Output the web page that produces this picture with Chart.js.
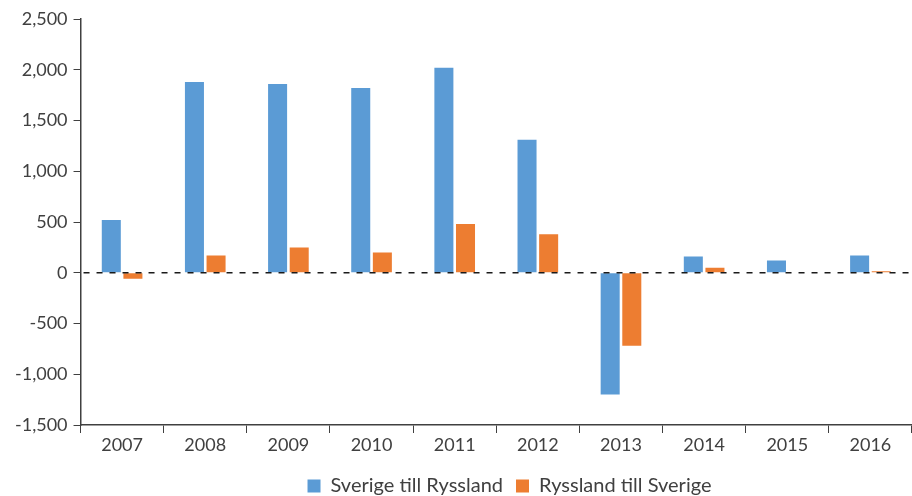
<!DOCTYPE html>
<html>
<head>
<meta charset="utf-8">
<script src="https://cdn.jsdelivr.net/npm/chart.js@4"></script>
<style>
  html,body{margin:0;padding:0;background:#fff;}
  #wrap{width:912px;height:496px;}
</style>
</head>
<body>
<div id="wrap"><canvas id="chart" width="912" height="496"></canvas></div>
<script>
const years = ["2007","2008","2009","2010","2011","2012","2013","2014","2015","2016"];
const sverigeTillRyssland = [520,1880,1860,1820,2020,1310,-1200,160,120,170];
const ryssTillSverige = [-60,170,250,200,480,380,-720,50,0,15];

// dashed line at zero, drawn on top of the bars
const zeroLine = {
    id:"zeroLine",
    afterDatasetsDraw(chart){
        const y = chart.scales.y.getPixelForValue(0);
        const a = chart.chartArea;
        const c = chart.ctx;
        c.save();
        c.strokeStyle="#1a1a1a";
        c.lineWidth=1.5;
        c.setLineDash([6,7]);
        c.beginPath();
        c.moveTo(a.left+3,y);
        c.lineTo(a.right,y);
        c.stroke();
        c.restore();
    }
};

// pull the legend closer to the bottom edge and center it under the plot
const legendPlace = {
    id:"legendPlace",
    beforeInit(chart){
        const fit = chart.legend.fit;
        chart.legend.fit = function(){
            fit.call(this);
            this.height -= 10;
        };
    },
    afterLayout(chart){
        chart.legend.left += 98;
    }
};

Chart.defaults.font.family="Lato, 'Open Sans', sans-serif";
Chart.defaults.color="#404040";

new Chart(document.getElementById("chart"),{
    type:"bar",
    data:{
        labels:years,
        datasets:[{
            label:"Sverige till Ryssland",
            data:sverigeTillRyssland,
            backgroundColor:"#5b9bd5",
            barPercentage:0.88,
            categoryPercentage:0.52
        },{
            label:"Ryssland till Sverige",
            data:ryssTillSverige,
            backgroundColor:"#ed7d31",
            barPercentage:0.88,
            categoryPercentage:0.52
        }]
    },
    plugins:[zeroLine,legendPlace],
    options:{
        responsive:false,
        animation:false,
        layout:{padding:{top:19,right:0,left:9,bottom:0}},
        plugins:{
            legend:{
                position:"bottom",
                labels:{boxWidth:13,boxHeight:13,font:{size:20},padding:13,color:"#404040"}
            },
            tooltip:{enabled:false}
        },
        scales:{
            x:{
                grid:{drawOnChartArea:false,drawTicks:true,tickLength:8,color:"#404040",offset:true},
                border:{color:"#404040",width:1.5},
                ticks:{font:{size:18},padding:1},
                afterFit(scale){ scale.height = 38; }
            },
            y:{
                min:-1500,
                max:2500,
                grid:{drawOnChartArea:false,drawTicks:true,tickLength:7,color:"#404040"},
                border:{color:"#404040",width:1.5},
                ticks:{
                    stepSize:500,
                    font:{size:18},
                    padding:6,
                    callback:v=>v.toLocaleString("en-US")
                }
            }
        }
    }
});
</script>
</body>
</html>
